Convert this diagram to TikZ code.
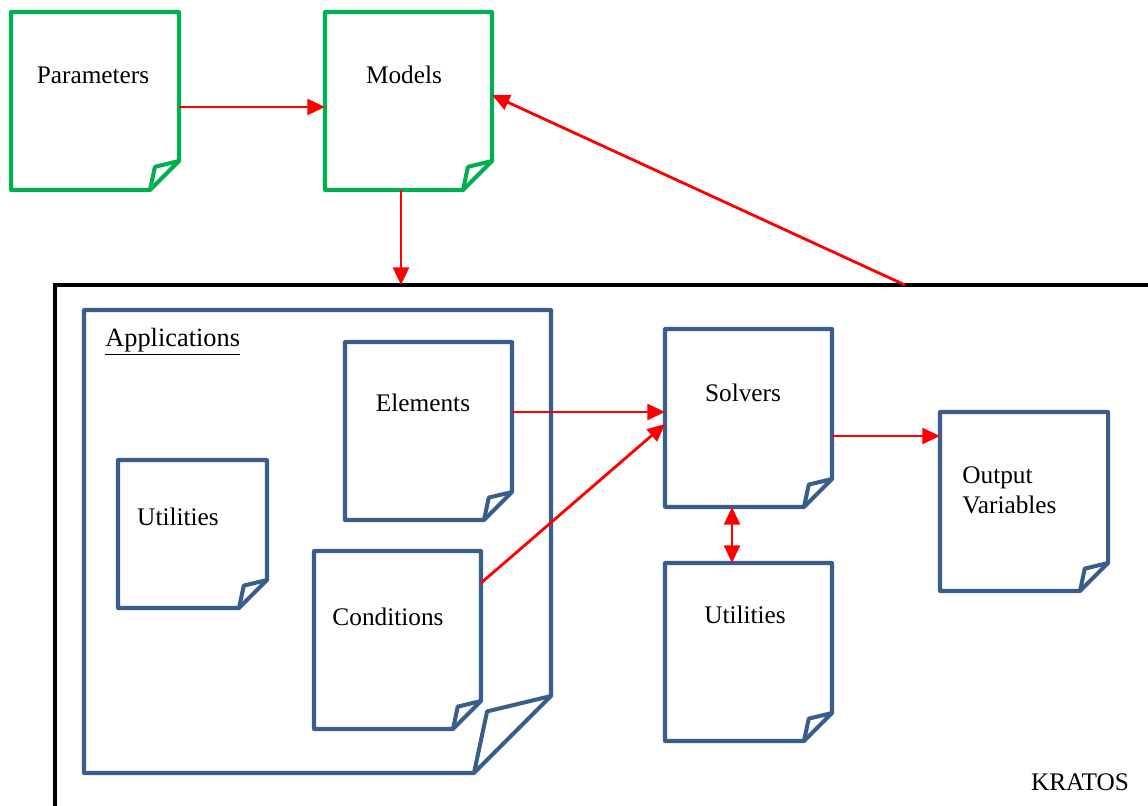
\documentclass[tikz,border=0pt]{standalone}
\usepackage{fontspec}
\setmainfont{Liberation Serif}
\usetikzlibrary{arrows.meta,fit,calc}
\definecolor{dgreen}{RGB}{0,176,80}
\definecolor{dblue}{RGB}{58,94,140}
\tikzset{
  docline/.style={line width=2.3pt, line join=round},
  arr/.style={draw=red, line width=1.6pt, -{Triangle[length=10pt,width=9pt]}},
  arrboth/.style={draw=red, line width=1.6pt, {Triangle[length=10pt,width=9pt]}-{Triangle[length=10pt,width=9pt]}},
  lbl/.style={font=\fontsize{14.4}{17}\selectfont, inner sep=0pt},
}
\newcommand\docshape[7]{%
  \coordinate (#1nw) at (#2,#3);
  \coordinate (#1se) at (#4,#5);
  \node[inner sep=0pt, outer sep=0pt, fit=(#1nw)(#1se)] (#1) {};
  \draw[docline, draw=#7] (#2,#3) -- (#4,#3) -- (#4,#5-#6) -- (#4-#6,#5) -- (#2,#5) -- cycle;
  \draw[docline, draw=#7] (#4-#6,#5) -- (#4-0.83*#6,#5-0.8*#6) -- (#4,#5-#6);
}
\begin{document}
\begin{tikzpicture}[x=0.02cm,y=-0.02cm]
\clip (0,0) rectangle (1148,805);
\fill[white] (0,0) rectangle (1148,805);
% KRATOS frame
\coordinate (kA) at (55,285);
\coordinate (kB) at (1210,870);
\node[draw=black, line width=2.3pt, inner sep=0pt, outer sep=0pt, fit=(kA)(kB)] (kratos) {};
% documents
\docshape{par}{11}{12}{179}{190}{29}{dgreen}
\docshape{mod}{325}{12}{492}{190}{29}{dgreen}
\docshape{app}{84}{310}{551}{773}{77}{dblue}
\docshape{ele}{345}{342}{512}{520}{28}{dblue}
\docshape{utl}{118}{460}{267}{608}{28}{dblue}
\docshape{con}{314}{551}{481}{729}{28}{dblue}
\docshape{sol}{665}{329}{832}{507}{28}{dblue}
\docshape{utr}{665}{563}{832}{741}{28}{dblue}
\docshape{out}{940}{412}{1108}{591}{28}{dblue}
% labels
\node[lbl] (tpar) at (93,75) {Parameters};
\node[lbl] (tmod) at (404,75) {Models};
\node[lbl, anchor=west, font=\fontsize{15}{17}\selectfont] (tapp) at (105,342) {\underline{Applications}};
\node[lbl] (tele) at (423,403) {Elements};
\node[lbl] (tutl) at (178,517) {Utilities};
\node[lbl] (tcon) at (388,617) {Conditions};
\node[lbl] (tsol) at (743,393) {Solvers};
\node[lbl] (tutr) at (745,615) {Utilities};
\node[lbl, anchor=west, align=left] (tout) at (962,490) {Output\\Variables};
\node[lbl] (tkra) at (1080,782) {KRATOS};
% connectors
\draw[arr] (par.east |- 0,107) -- (mod.west |- 0,107);
\draw[arr] (mod.south -| 401,0) -- (kratos.north -| 401,0);
\draw[arr] (kratos.north -| 905,0) -- (mod.east |- 0,95);
\draw[arr] (ele.east |- 0,412) -- (sol.west |- 0,412);
\draw[arr] (con.east |- 0,583) -- (sol.west |- 0,424);
\draw[arr] (sol.east |- 0,436) -- (out.west |- 0,436);
\draw[arrboth] (sol.south -| 732,0) -- (utr.north -| 732,0);
\end{tikzpicture}
\end{document}
